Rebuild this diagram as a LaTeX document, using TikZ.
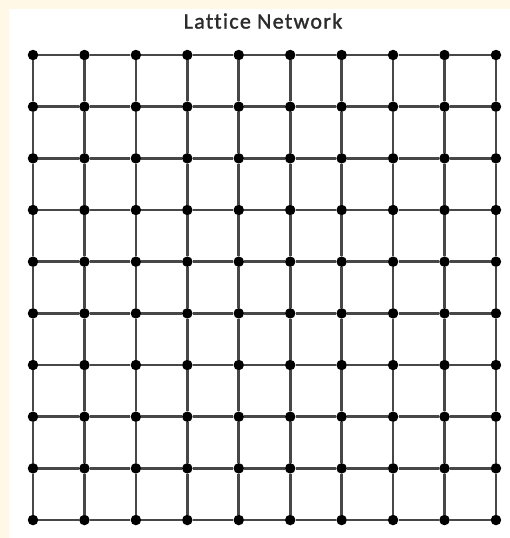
\documentclass[tikz,border=0pt]{standalone}
\usepackage{fontspec}
\setmainfont{Carlito}
\newfontfamily\titlefont[LetterSpace=6, FakeBold=1.4, Ligatures=NoCommon]{Carlito}
\usetikzlibrary{positioning}
\definecolor{paper}{HTML}{FFF8E6}
\definecolor{linkgray}{HTML}{474747}
\definecolor{titlegray}{HTML}{2B2B2B}

\begin{document}
\begin{tikzpicture}[
  x=1pt,
  y=-1pt,
  site/.style={circle, fill=black, inner sep=0pt, minimum size=10.5pt},
  link/.style={draw=linkgray, line width=2.6pt}
]
  % Page: cream margin on the left and top, white panel.
  \fill[paper] (0,0) rectangle (510,538);
  \fill[white] (9,9) rectangle (510,538);
  \useasboundingbox (0,0) rectangle (510,538);

  % Title.
  \node[font=\titlefont\fontsize{22}{26}\selectfont, text=titlegray] (title) at (263,21) {Lattice Network};

  % Lattice sites, 10 by 10.
  \foreach \i in {0,...,9} {
    \foreach \j in {0,...,9} {
      \node[site] (s-\i-\j) at ({33+51.44*\i}, {55+51.67*\j}) {};
    }
  }

  % Horizontal and vertical links.
  \foreach \i [evaluate=\i as \k using int(\i+1)] in {0,...,8} {
    \foreach \j in {0,...,9} {
      \draw[link] (s-\i-\j) -- (s-\k-\j);
      \draw[link] (s-\j-\i) -- (s-\j-\k);
    }
  }
\end{tikzpicture}
\end{document}
